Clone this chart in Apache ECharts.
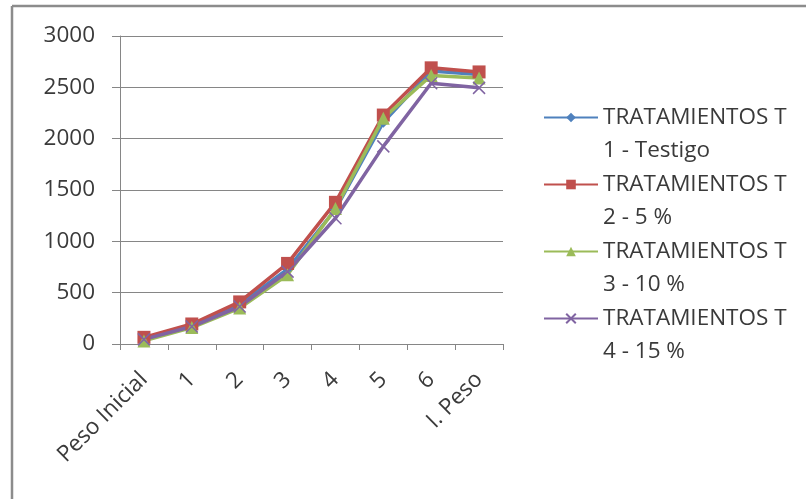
<!DOCTYPE html>
<html>
<head>
<meta charset="utf-8">
<script src="https://cdn.jsdelivr.net/npm/echarts@6/dist/echarts.min.js"></script>
<style>
  html, body { margin: 0; padding: 0; background: #fff; }
  #chart { width: 806px; height: 499px; }
</style>
</head>
<body>
<div id="chart"></div>
<script>
// Weighing stages (x axis)
const categories = ['Peso Inicial', '1', '2', '3', '4', '5', '6', 'I. Peso'];

// Series names (wrapped onto two lines in the legend)
const seriesNames = [
  'TRATAMIENTOS T 1 - Testigo',
  'TRATAMIENTOS T 2 - 5 %',
  'TRATAMIENTOS T 3 - 10 %',
  'TRATAMIENTOS T 4 - 15 %'
];

// Weights per treatment
const t1Values = [50, 175, 385, 730, 1310, 2160, 2660, 2625];
const t2Values = [65, 195, 410, 785, 1380, 2230, 2690, 2650];
const t3Values = [30, 160, 350, 675, 1320, 2200, 2615, 2590];
const t4Values = [45, 170, 365, 705, 1225, 1925, 2540, 2495];

// Y axis ticks
const yTicks = [0, 500, 1000, 1500, 2000, 2500, 3000];

const colors = ['#4F81BD', '#C0504D', '#9BBB59', '#8064A2'];
const crossPath = 'path://M0,0L10,10M10,0L0,10';
const symbols = ['diamond', 'rect', 'triangle', crossPath];
const symbolSizes = [11, 13, 13, 12];
const valueSets = [t1Values, t2Values, t3Values, t4Values];

const FONT = 'Open Sans';
const FONT_SIZE = 22.5;
const LINE_H = 33;

const chart = echarts.init(document.getElementById('chart'), null, { renderer: 'canvas' });

const series = seriesNames.map((name, i) => ({
  name: name,
  type: 'line',
  data: valueSets[i],
  symbol: symbols[i],
  symbolSize: symbolSizes[i],
  showSymbol: true,
  lineStyle: { color: colors[i], width: 3.5 },
  itemStyle: i === 3
    ? { color: colors[i], borderColor: colors[i], borderWidth: 1.5 }
    : { color: colors[i], borderColor: colors[i], borderWidth: 0 },
  emphasis: { disabled: true },
  animation: false
}));

chart.setOption({
  backgroundColor: '#fff',
  animation: false,
  color: colors,
  graphic: [
    { type: 'line', shape: { x1: 12, y1: 6, x2: 12, y2: 499 }, style: { stroke: '#8c8c8c', lineWidth: 2.5 } },
    { type: 'line', shape: { x1: 12, y1: 6, x2: 806, y2: 6 }, style: { stroke: '#8c8c8c', lineWidth: 2.5 } }
  ],
  grid: { left: 120, right: 303, top: 36, bottom: 155, containLabel: false },
  legend: {
    orient: 'vertical',
    left: 543,
    top: 68,
    padding: 0,
    itemWidth: 54,
    itemHeight: 12,
    itemGap: 67 - 3 * LINE_H,
    selectedMode: false,
    data: seriesNames,
    // blank first line keeps the marker level with the first text line
    formatter: function (name) {
      const idx = name.indexOf(' T ') + 2;
      return '\n' + name.slice(0, idx) + '\n' + name.slice(idx + 1);
    },
    textStyle: {
      fontFamily: FONT,
      fontSize: FONT_SIZE,
      color: '#3a3a3a',
      lineHeight: LINE_H
    }
  },
  xAxis: {
    type: 'category',
    data: categories,
    boundaryGap: true,
    axisLine: { show: true, lineStyle: { color: '#868686', width: 1 } },
    axisTick: { show: true, length: 6, alignWithLabel: false, lineStyle: { color: '#868686' } },
    axisLabel: {
      rotate: 45,
      interval: 0,
      margin: 32,
      fontFamily: FONT,
      fontSize: FONT_SIZE,
      color: '#3a3a3a'
    },
    splitLine: { show: false }
  },
  yAxis: {
    type: 'value',
    min: yTicks[0],
    max: yTicks[yTicks.length - 1],
    interval: 500,
    axisLine: { show: true, lineStyle: { color: '#868686', width: 1 } },
    axisTick: { show: true, length: 8, lineStyle: { color: '#868686' } },
    axisLabel: {
      margin: 25,
      fontFamily: FONT,
      fontSize: FONT_SIZE,
      color: '#3a3a3a',
      formatter: function (v) { return String(v); }
    },
    splitLine: { show: true, lineStyle: { color: '#868686', width: 1 } }
  },
  series: series
});
</script>
</body>
</html>
